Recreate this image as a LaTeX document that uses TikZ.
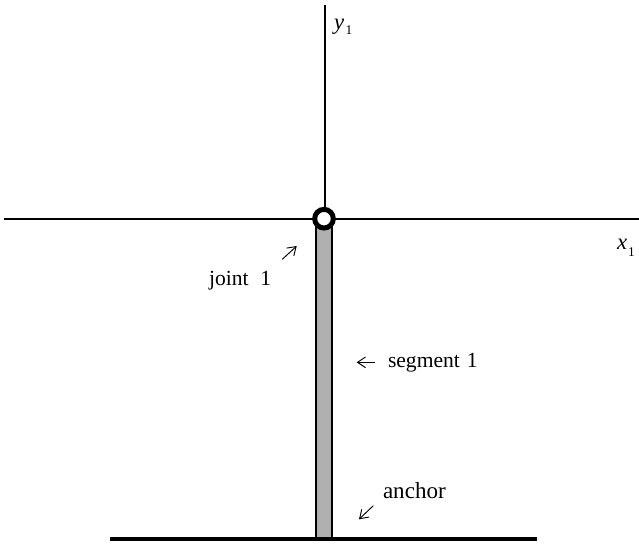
\documentclass[tikz,border=0pt]{standalone}
\usepackage{fontspec}
\setmainfont{Liberation Serif}
\usetikzlibrary{arrows.meta}
\definecolor{seg}{HTML}{B0B0B0}
\tikzset{
  axisline/.style={draw=black,line width=1.5pt},
  lbl/.style={inner sep=0pt,outer sep=0pt,anchor=base west,font=\fontsize{16.2}{19}\selectfont},
  axlbl/.style={inner sep=0pt,outer sep=0pt,anchor=base west,font=\fontsize{17}{20}\selectfont\itshape},
  sub/.style={inner sep=0pt,outer sep=0pt,anchor=base west,font=\fontsize{10}{12}\selectfont},
  pointer/.style={draw=black,line width=0.7pt,-{Straight Barb[length=6pt,width=8pt,line width=0.7pt]}},
}
\begin{document}
\begin{tikzpicture}[x=0.75pt,y=-0.75pt]
\useasboundingbox (0,0) rectangle (639,543);
\coordinate (xl) at (4,218.5);
\coordinate (xr) at (639,218.5);
\coordinate (yt) at (324.5,5);
\coordinate (yb) at (324.5,218.5);
\draw[axisline] (xl) -- (xr);
\draw[axisline] (yt) -- (yb);
\node[draw=black,line width=1.1pt,fill=seg,minimum width=12.3pt,minimum height=240.75pt,inner sep=0pt,outer sep=0pt] (segment) at (324,378.5) {};
\coordinate (al) at (110,539);
\coordinate (ar) at (537,539);
\draw[draw=black,line width=2.6pt] (al) -- (ar);
\node[circle,draw=black,line width=3.75pt,fill=white,minimum size=14pt,inner sep=0pt,outer sep=0pt] (joint) at (324,218.7) {};
\node[axlbl] (ylab) at (334,29) {y};
\node[sub] (ysub) at (345.5,34) {1};
\node[axlbl] (xlab) at (617,249) {x};
\node[sub] (xsub) at (628,256.7) {1};
\node[lbl] (jlab) at (209,285) {joint\hspace{0.55em}1};
\node[lbl] (slab) at (388,367.7) {segment\hspace{0.32em}1};
\node[lbl,font=\fontsize{17.3}{20}\selectfont] (alab) at (383,498) {anchor};
\coordinate (ja) at (282.3,259.3);
\coordinate (jb) at (296.7,246);
\coordinate (sa) at (375,362.3);
\coordinate (sb) at (356.7,362.3);
\coordinate (aa) at (373.3,505.7);
\coordinate (ab) at (359,519.3);
\draw[pointer] (ja) -- (jb);
\draw[pointer] (sa) -- (sb);
\draw[pointer] (aa) -- (ab);
\end{tikzpicture}
\end{document}
